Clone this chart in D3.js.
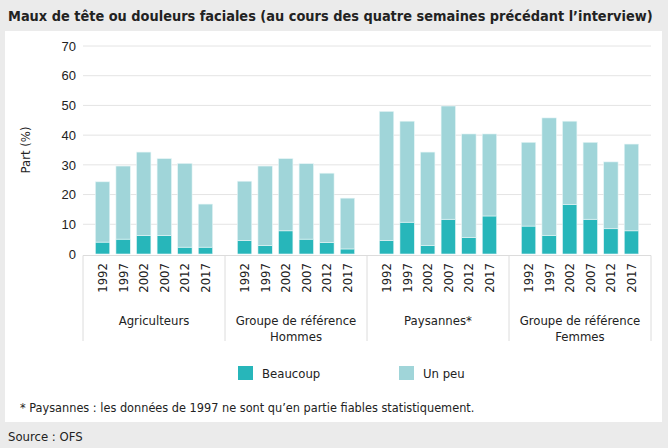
<!DOCTYPE html>
<html><head><meta charset="utf-8">
<script src="https://cdn.jsdelivr.net/npm/d3@7"></script>
<style>
body{margin:0;background:#ebebeb;}
svg{display:block;font-family:"DejaVu Sans Condensed","Liberation Sans Narrow",sans-serif;}
</style></head><body>
<svg id="c" width="668" height="448"></svg>
<script>
const groups = ["Agriculteurs", "Groupe de référence|Hommes", "Paysannes*", "Groupe de référence|Femmes"];
const years = ["1992","1997","2002","2007","2012","2017"];
const totals = [
  [24.3, 29.6, 34.3, 32.1, 30.5, 16.8],
  [24.5, 29.6, 32.1, 30.4, 27.2, 18.8],
  [48.0, 44.7, 34.3, 49.8, 40.4, 40.4],
  [37.6, 45.8, 44.7, 37.6, 31.0, 37.0]
];
const beaucoup = [
  [4.0, 5.0, 6.2, 6.2, 2.3, 2.3],
  [4.5, 2.9, 7.8, 5.0, 3.9, 1.7],
  [4.5, 10.7, 2.9, 11.7, 5.6, 12.8],
  [9.4, 6.3, 16.6, 11.7, 8.5, 7.8]
];
const unPeu = totals.map((g,i)=>g.map((t,j)=>+(t-beaucoup[i][j]).toFixed(1)));
const seriesNames = ["Beaucoup","Un peu"];
const colors = ["#27b6ba","#a0d5d9"];
const yTicks = [0,10,20,30,40,50,60,70];

const svg = d3.select("#c");
svg.append("rect").attr("x",5).attr("y",31).attr("width",657).attr("height",391).attr("fill","#fff");
const title = svg.append("text").attr("x",8).attr("y",21).attr("font-size",16).attr("font-weight","bold").attr("fill","#222")
  .text("Maux de tête ou douleurs faciales (au cours des quatre semaines précédant l’interview)");
const tw = title.node().getComputedTextLength();
if (tw > 648) title.attr("font-size", Math.floor(16*648/tw*10)/10);

const x0 = d3.scaleBand().domain(groups).range([83,651]);
const x1 = d3.scaleBand().domain(years).range([0,x0.bandwidth()]).paddingInner(0.3).paddingOuter(0.6);
const y = d3.scaleLinear().domain([0,70]).range([254,46]);

// grid
svg.append("g").selectAll("line").data(yTicks.filter(d=>d>0)).join("line")
  .attr("x1",83).attr("x2",651).attr("y1",d=>y(d)).attr("y2",d=>y(d))
  .attr("stroke","#e4e4e4").attr("stroke-width",1);

// y axis
const ya = svg.append("g").attr("transform","translate(83,0)")
  .call(d3.axisLeft(y).tickValues(yTicks).tickSize(0).tickPadding(7));
ya.select(".domain").remove();
ya.selectAll("text").attr("font-size",13).attr("fill","#222").attr("font-family","inherit");

svg.append("text").attr("transform","translate(30,150) rotate(-90)").attr("text-anchor","middle")
  .attr("font-size",13).attr("fill","#222").text("Part (%)");

// bars
const data = [];
groups.forEach((g,i)=>years.forEach((yr,j)=>{
  data.push({g,yr,s:0,y0:0,y1:beaucoup[i][j]});
  data.push({g,yr,s:1,y0:beaucoup[i][j],y1:beaucoup[i][j]+unPeu[i][j]});
}));
svg.append("g").selectAll("rect").data(data).join("rect")
  .attr("x",d=>x0(d.g)+x1(d.yr)).attr("width",x1.bandwidth())
  .attr("y",d=>y(d.y1)).attr("height",d=>y(d.y0)-y(d.y1))
  .attr("fill",d=>colors[d.s]).attr("stroke","#e8f6f7").attr("stroke-width",0.6);

// x axis lines
svg.append("line").attr("x1",83).attr("x2",651).attr("y1",255.5).attr("y2",255.5).attr("stroke","#dcdcdc");
svg.append("g").selectAll("line").data(groups.concat(["end"])).join("line")
  .attr("x1",(d,i)=>i<groups.length?x0(d):651).attr("x2",(d,i)=>i<groups.length?x0(d):651)
  .attr("y1",255.5).attr("y2",341).attr("stroke","#dcdcdc");

// year labels
groups.forEach(g=>{
  svg.append("g").selectAll("text").data(years).join("text")
    .attr("transform",d=>`translate(${x0(g)+x1(d)+x1.bandwidth()/2+4.5},263) rotate(-90)`)
    .attr("text-anchor","end").attr("font-size",13).attr("fill","#222").text(d=>d);
});
// group labels
groups.forEach(g=>{
  const lines = g.split("|");
  const t = svg.append("text").attr("text-anchor","middle").attr("font-size",13).attr("fill","#222");
  lines.forEach((l,k)=>t.append("tspan").attr("x",x0(g)+x0.bandwidth()/2).attr("y",325+k*15.5).text(l));
});

// legend
const lx = [238,399];
seriesNames.forEach((n,i)=>{
  svg.append("rect").attr("x",lx[i]).attr("y",366).attr("width",15).attr("height",14).attr("fill",colors[i]);
  svg.append("text").attr("x",lx[i]+24).attr("y",378).attr("font-size",13).attr("fill","#222").text(n);
});

svg.append("text").attr("x",20).attr("y",412).attr("font-size",12.6).attr("fill","#222")
  .text("* Paysannes : les données de 1997 ne sont qu’en partie fiables statistiquement.");
svg.append("text").attr("x",8).attr("y",441).attr("font-size",13).attr("fill","#222").text("Source : OFS");
</script></body></html>
